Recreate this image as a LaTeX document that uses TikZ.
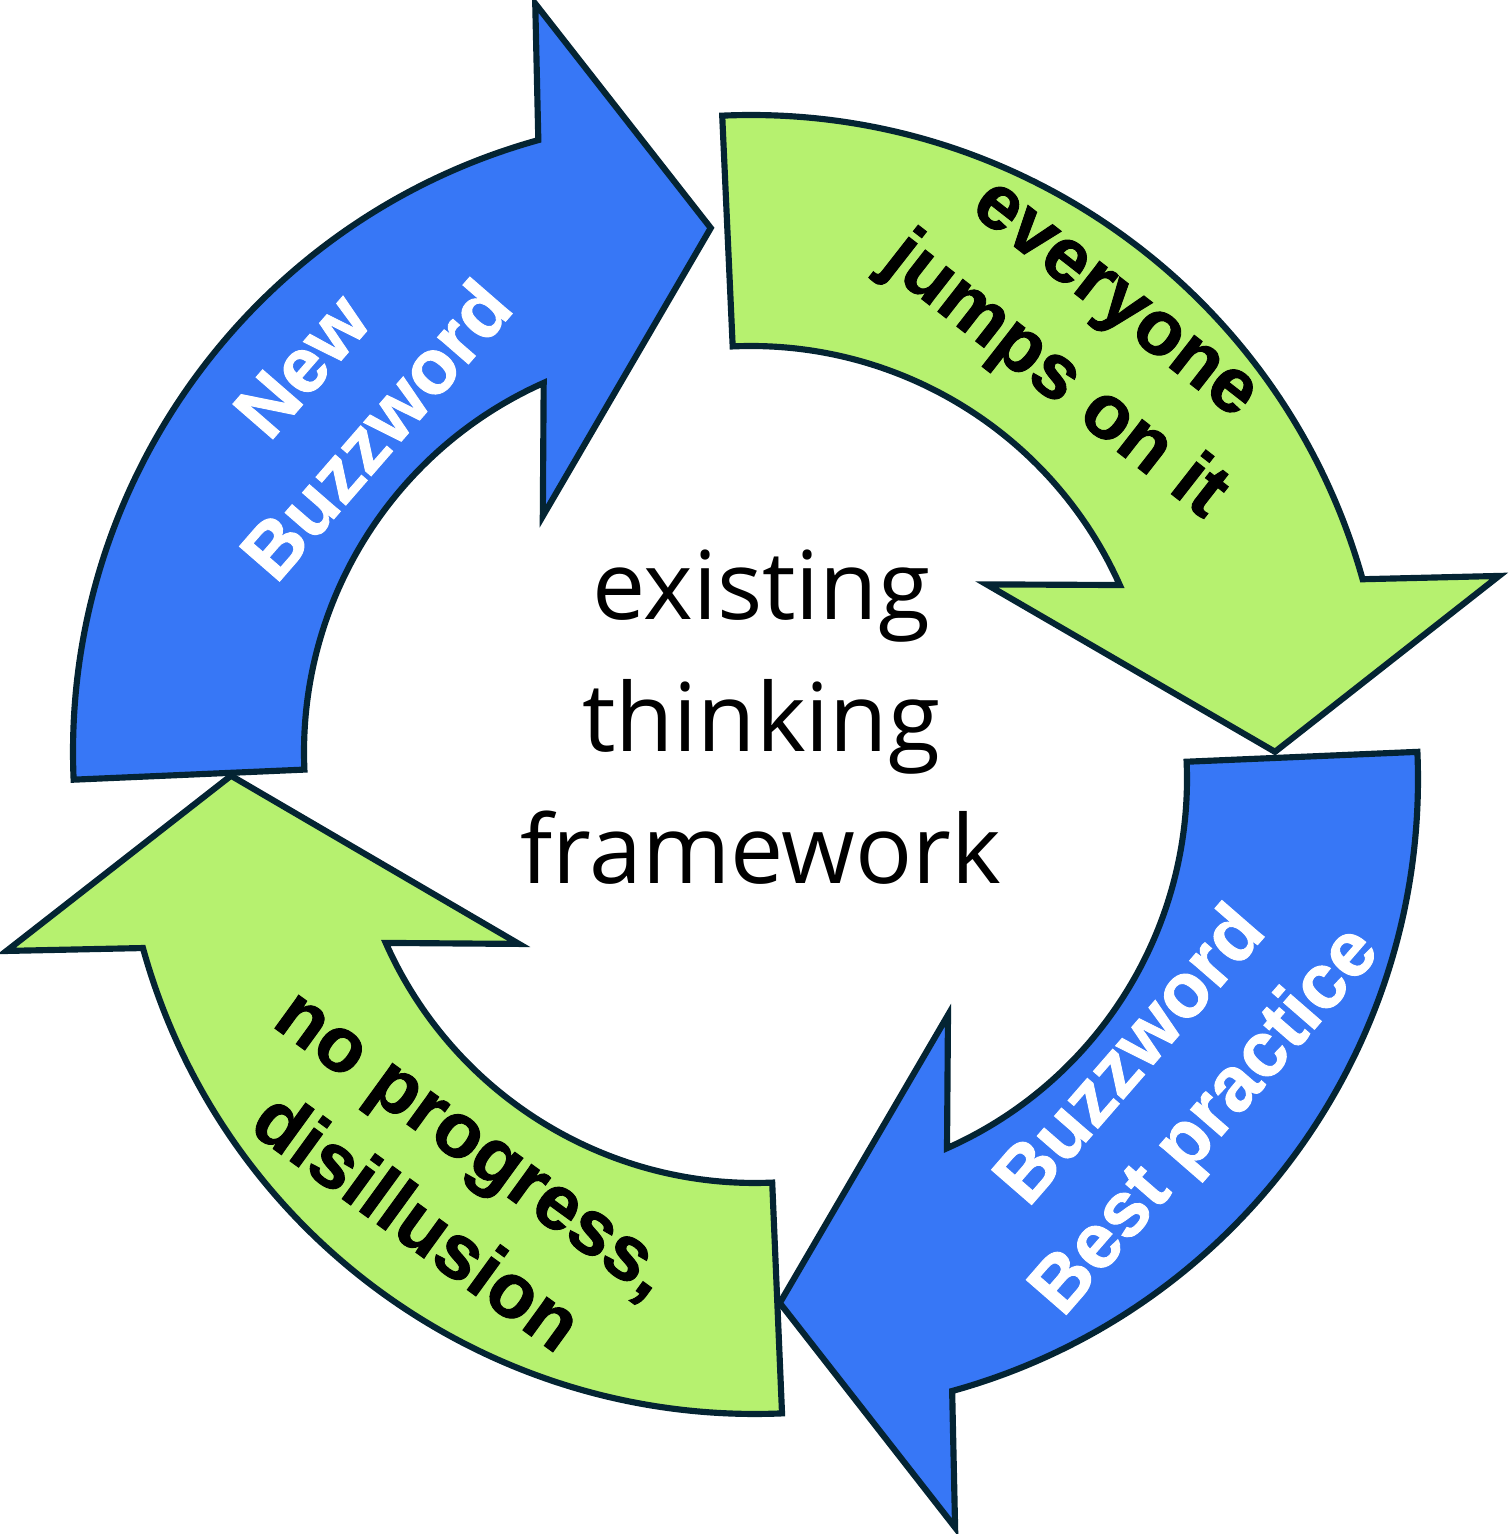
\documentclass[tikz,border=0pt]{standalone}
\usepackage{fontspec}
\setmainfont{Open Sans}
\newfontfamily\lblfont{Liberation Sans}[BoldFeatures={FakeBold=1.2}]
\usepackage{tikz}
\usepackage{xcolor}
\definecolor{buzzblue}{HTML}{3777F6}
\definecolor{hypegreen}{HTML}{B6F16F}
\definecolor{rimnavy}{HTML}{042433}

\begin{document}
\begin{tikzpicture}[x=0.02cm,y=0.02cm,
  cyclearrow/.style={draw=rimnavy,line width=3.5pt,line join=miter},
  lbl/.style={font={\lblfont\bfseries\fontsize{44}{56}\selectfont},align=center}]
  \useasboundingbox (0,0) rectangle (1508,1534);
  \foreach \cx/\cy/\a/\col in {708/782/182.5/buzzblue,751/784/92.6/hypegreen,
                               783/755/2.45/buzzblue,755/755/272.44/hypegreen}{
    \begin{scope}[shift={(\cx,\cy)}]
      \draw[cyclearrow,fill=\col] (\a:635) arc[start angle=\a,end angle={\a-77},radius=635]
        -- ({\a-79.5}:768) -- ({\a-92.8}:524) -- ({\a-57.5}:288) -- ({\a-68.5}:404)
        arc[start angle={\a-68.5},end angle=\a,radius=404] -- cycle;
    \end{scope}
  }
  \node[lbl,text=white,rotate=49] (newbuzz) at (339,1136) {New\\Buzzword};
  \node[lbl,rotate=-38] (jumps) at (1080,1190) {everyone\\jumps on it};
  \node[lbl,text=white,rotate=49] (bestprac) at (1170,444) {Buzzword\\Best practice};
  \node[lbl,rotate=-36] (noprog) at (443,348) {no progress,\\disillusion};
  \node[font={\fontsize{54}{75}\selectfont},align=center] (core) at (761,817)
    {existing\\thinking\\framework};
\end{tikzpicture}
\end{document}
